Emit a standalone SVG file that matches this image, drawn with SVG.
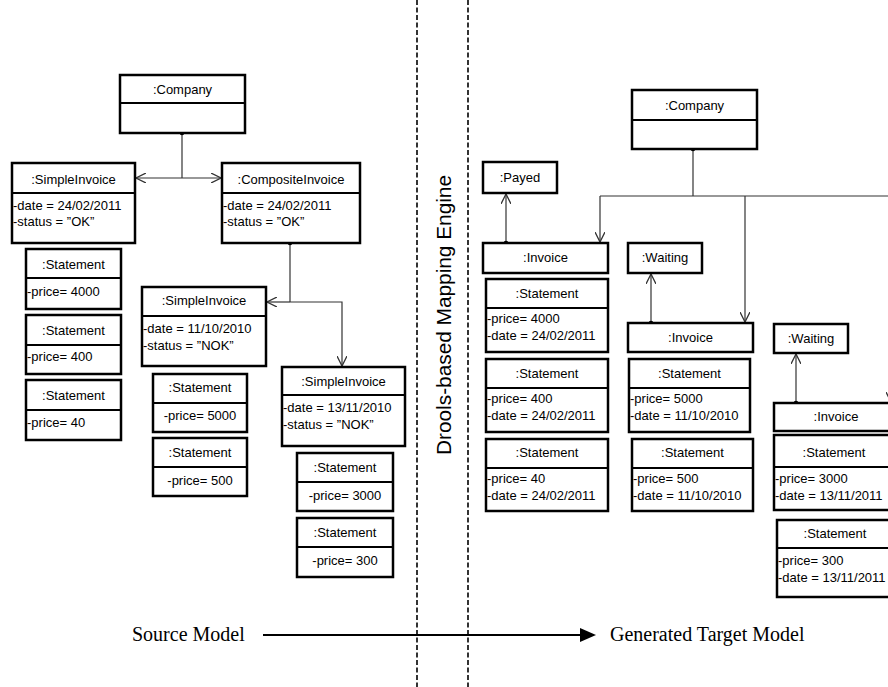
<svg xmlns="http://www.w3.org/2000/svg" width="888" height="687" viewBox="0 0 888 687">
<style>
.box{fill:#fff;stroke:#000;stroke-width:2.5}
.dv{stroke:#000;stroke-width:2}
.t{font-family:"Liberation Sans",Arial,sans-serif;font-size:13px;fill:#000}
.c{text-anchor:middle}
.con{fill:none;stroke:#333;stroke-width:1.2}
.dash{stroke:#000;stroke-width:1.6;stroke-dasharray:5 2.5}
.big{font-family:"Liberation Serif","Times New Roman",serif;font-size:20px;fill:#000}
</style>
<defs>
<marker id="arr" viewBox="0 0 10 10" refX="10" refY="5" markerWidth="10" markerHeight="10" markerUnits="userSpaceOnUse" orient="auto-start-reverse">
<path d="M0,0 L10,5 L0,10" fill="none" stroke="#333" stroke-width="1.3"/>
</marker>
</defs>

<!-- separators -->
<g id="separators">
<line class="dash" x1="417" y1="0" x2="417" y2="687"/>
<line class="dash" x1="468" y1="0" x2="468" y2="687"/>
<text id="engine-label" font-family="'Liberation Sans',Arial,sans-serif" font-size="20" text-anchor="middle" transform="translate(451,315) rotate(-90)" textLength="280" lengthAdjust="spacingAndGlyphs">Drools-based Mapping Engine</text>
</g>

<!-- connectors -->
<g id="connectors">
<polyline class="con" points="182,133 182,178"/>
<line class="con" x1="136" y1="178" x2="221" y2="178" marker-start="url(#arr)" marker-end="url(#arr)"/>
<circle cx="182" cy="133" r="2.3" fill="#000"/>
<polyline class="con" points="290,243 290,302"/>
<line class="con" x1="267" y1="302" x2="290" y2="302" marker-start="url(#arr)"/>
<polyline class="con" points="290,302 342,302 342,366" marker-end="url(#arr)"/>
<circle cx="290" cy="243" r="2.3" fill="#000"/>

<polyline class="con" points="693,149 693,196"/>
<line class="con" x1="600" y1="196" x2="900" y2="196"/>
<polyline class="con" points="600,196 600,242" marker-end="url(#arr)"/>
<polyline class="con" points="745,196 745,322" marker-end="url(#arr)"/>
<polyline class="con" points="891,196 891,402" marker-end="url(#arr)"/>
<circle cx="693" cy="149" r="2.3" fill="#000"/>
<line class="con" x1="506" y1="243" x2="506" y2="194" marker-end="url(#arr)"/>
<circle cx="506" cy="243" r="2.3" fill="#000"/>
<line class="con" x1="651" y1="323" x2="651" y2="274" marker-end="url(#arr)"/>
<circle cx="651" cy="323" r="2.3" fill="#000"/>
<line class="con" x1="796" y1="403" x2="796" y2="354" marker-end="url(#arr)"/>
<circle cx="796" cy="403" r="2.3" fill="#000"/>

<line x1="263" y1="635" x2="580" y2="635" stroke="#000" stroke-width="1.8"/>
<path d="M580,628 L596,635 L580,642 Z" fill="#000"/>
</g>

<text class="big" x="132" y="641">Source Model</text>
<text class="big" x="610" y="641">Generated Target Model</text>

<!-- source model -->
<g id="src-company">
<rect class="box" x="120" y="75" width="125" height="58"/>
<line class="dv" x1="120" y1="103" x2="245" y2="103"/>
<text class="t c" x="182.5" y="94">:Company</text>
</g>
<g id="src-simpleinvoice1">
<rect class="box" x="12" y="163" width="123" height="80"/>
<line class="dv" x1="12" y1="193" x2="135" y2="193"/>
<text class="t c" x="73.5" y="184">:SimpleInvoice</text>
<text class="t" x="13" y="210">-date = 24/02/2011</text>
<text class="t" x="13" y="226">-status = ”OK”</text>
</g>
<g id="src-compositeinvoice">
<rect class="box" x="222" y="163" width="138" height="80"/>
<line class="dv" x1="222" y1="193" x2="360" y2="193"/>
<text class="t c" x="291" y="184">:CompositeInvoice</text>
<text class="t" x="223" y="210">-date = 24/02/2011</text>
<text class="t" x="223" y="226">-status = ”OK”</text>
</g>
<g id="src-statement1">
<rect class="box" x="26" y="249" width="95" height="60"/>
<line class="dv" x1="26" y1="278" x2="121" y2="278"/>
<text class="t c" x="73.5" y="269">:Statement</text>
<text class="t" x="27" y="296">-price= 4000</text>
</g>
<g id="src-statement2">
<rect class="box" x="26" y="315" width="95" height="59"/>
<line class="dv" x1="26" y1="345" x2="121" y2="345"/>
<text class="t c" x="73.5" y="335">:Statement</text>
<text class="t" x="27" y="361">-price= 400</text>
</g>
<g id="src-statement3">
<rect class="box" x="26" y="380" width="95" height="60"/>
<line class="dv" x1="26" y1="410" x2="121" y2="410"/>
<text class="t c" x="73.5" y="400">:Statement</text>
<text class="t" x="27" y="427">-price= 40</text>
</g>
<g id="src-simpleinvoice2">
<rect class="box" x="142" y="287" width="124" height="79"/>
<line class="dv" x1="142" y1="316" x2="266" y2="316"/>
<text class="t c" x="204" y="305">:SimpleInvoice</text>
<text class="t" x="143" y="333">-date = 11/10/2010</text>
<text class="t" x="143" y="350">-status = ”NOK”</text>
</g>
<g id="src-statement4">
<rect class="box" x="153" y="374" width="94" height="58"/>
<line class="dv" x1="153" y1="403" x2="247" y2="403"/>
<text class="t c" x="200" y="392">:Statement</text>
<text class="t c" x="200" y="420">-price= 5000</text>
</g>
<g id="src-statement5">
<rect class="box" x="153" y="438" width="94" height="58"/>
<line class="dv" x1="153" y1="467" x2="247" y2="467"/>
<text class="t c" x="200" y="457">:Statement</text>
<text class="t c" x="200" y="485">-price= 500</text>
</g>
<g id="src-simpleinvoice3">
<rect class="box" x="282" y="367" width="123" height="79"/>
<line class="dv" x1="282" y1="395" x2="405" y2="395"/>
<text class="t c" x="343.5" y="386">:SimpleInvoice</text>
<text class="t" x="283" y="412">-date = 13/11/2010</text>
<text class="t" x="283" y="429">-status = ”NOK”</text>
</g>
<g id="src-statement6">
<rect class="box" x="297" y="453" width="96" height="58"/>
<line class="dv" x1="297" y1="482" x2="393" y2="482"/>
<text class="t c" x="345" y="472">:Statement</text>
<text class="t c" x="345" y="500">-price= 3000</text>
</g>
<g id="src-statement7">
<rect class="box" x="297" y="518" width="96" height="59"/>
<line class="dv" x1="297" y1="547" x2="393" y2="547"/>
<text class="t c" x="345" y="537">:Statement</text>
<text class="t c" x="345" y="565">-price= 300</text>
</g>

<!-- target model -->
<g id="tgt-company">
<rect class="box" x="632" y="90" width="125" height="59"/>
<line class="dv" x1="632" y1="120" x2="757" y2="120"/>
<text class="t c" x="694.5" y="110">:Company</text>
</g>
<g id="tgt-payed">
<rect class="box" x="483" y="162" width="74" height="31"/>
<text class="t c" x="520" y="182">:Payed</text>
</g>
<g id="tgt-invoice1">
<rect class="box" x="483" y="243" width="125" height="30"/>
<text class="t c" x="545.5" y="262">:Invoice</text>
</g>
<g id="tgt-waiting1">
<rect class="box" x="628" y="243" width="74" height="30"/>
<text class="t c" x="665" y="262">:Waiting</text>
</g>
<g id="tgt-statement1">
<rect class="box" x="486" y="279" width="122" height="73"/>
<line class="dv" x1="486" y1="308" x2="608" y2="308"/>
<text class="t c" x="547" y="298">:Statement</text>
<text class="t" x="487" y="323">-price= 4000</text>
<text class="t" x="487" y="340">-date = 24/02/2011</text>
</g>
<g id="tgt-statement2">
<rect class="box" x="486" y="359" width="122" height="73"/>
<line class="dv" x1="486" y1="388" x2="608" y2="388"/>
<text class="t c" x="547" y="378">:Statement</text>
<text class="t" x="487" y="403">-price= 400</text>
<text class="t" x="487" y="420">-date = 24/02/2011</text>
</g>
<g id="tgt-statement3">
<rect class="box" x="486" y="439" width="122" height="72"/>
<line class="dv" x1="486" y1="468" x2="608" y2="468"/>
<text class="t c" x="547" y="457">:Statement</text>
<text class="t" x="487" y="483">-price= 40</text>
<text class="t" x="487" y="500">-date = 24/02/2011</text>
</g>
<g id="tgt-invoice2">
<rect class="box" x="628" y="323" width="125" height="29"/>
<text class="t c" x="690.5" y="342">:Invoice</text>
</g>
<g id="tgt-statement4">
<rect class="box" x="629" y="359" width="121" height="73"/>
<line class="dv" x1="629" y1="388" x2="750" y2="388"/>
<text class="t c" x="689.5" y="378">:Statement</text>
<text class="t" x="630" y="403">-price= 5000</text>
<text class="t" x="630" y="420">-date = 11/10/2010</text>
</g>
<g id="tgt-statement5">
<rect class="box" x="632" y="439" width="121" height="72"/>
<line class="dv" x1="632" y1="468" x2="753" y2="468"/>
<text class="t c" x="692.5" y="457">:Statement</text>
<text class="t" x="633" y="483">-price= 500</text>
<text class="t" x="633" y="500">-date = 11/10/2010</text>
</g>
<g id="tgt-waiting2">
<rect class="box" x="774" y="324" width="74" height="29"/>
<text class="t c" x="811" y="343">:Waiting</text>
</g>
<g id="tgt-invoice3">
<rect class="box" x="774" y="403" width="124" height="28"/>
<text class="t c" x="836" y="421">:Invoice</text>
</g>
<g id="tgt-statement6">
<rect class="box" x="774" y="435" width="120" height="75"/>
<line class="dv" x1="774" y1="467" x2="894" y2="467"/>
<text class="t c" x="834" y="457">:Statement</text>
<text class="t" x="775" y="483">-price= 3000</text>
<text class="t" x="775" y="500">-date = 13/11/2011</text>
</g>
<g id="tgt-statement7">
<rect class="box" x="777" y="520" width="117" height="77"/>
<line class="dv" x1="777" y1="548" x2="894" y2="548"/>
<text class="t c" x="835" y="538">:Statement</text>
<text class="t" x="778" y="565">-price= 300</text>
<text class="t" x="778" y="582">-date = 13/11/2011</text>
</g>
</svg>
